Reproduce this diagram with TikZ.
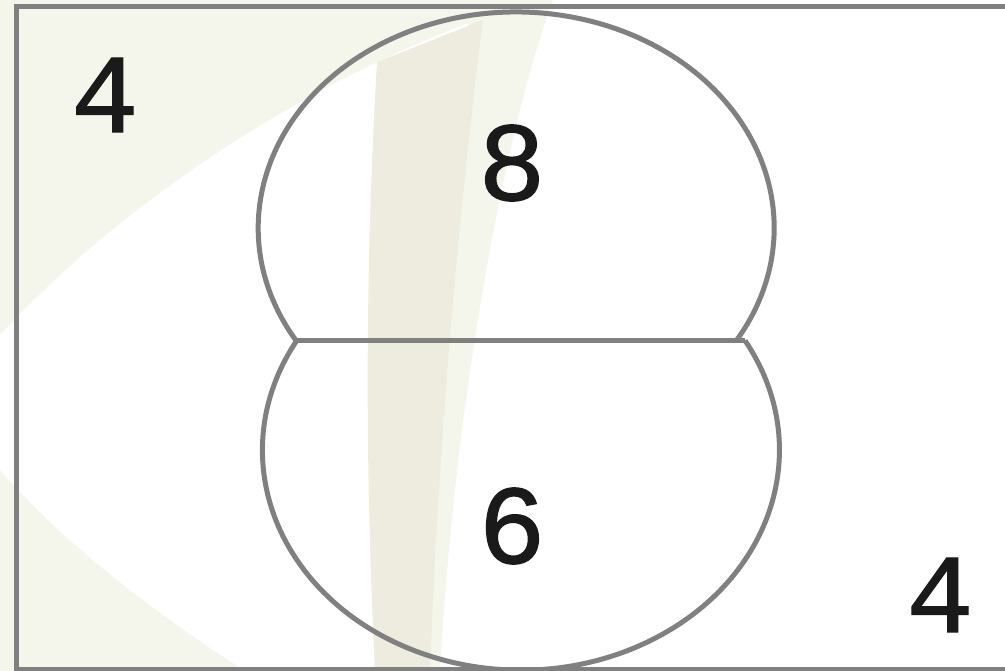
\documentclass[tikz,border=0pt]{standalone}
\usepackage{fontspec}
\newfontfamily\numfont[FakeBold=1.2]{Liberation Mono}
\definecolor{swoosh}{HTML}{F4F6EC}
\definecolor{band}{HTML}{EEECDF}
\definecolor{edge}{HTML}{808080}
\definecolor{ink}{HTML}{1A1A1A}
\begin{document}
\begin{tikzpicture}[x=0.02cm, y=-0.02cm,
  region/.style={draw=edge, line width=5*0.02cm},
  count/.style={inner sep=0pt, text=ink, font=\numfont\fontsize{64}{76}\selectfont}]
\useasboundingbox (0,0) rectangle (1005,671);
\clip (0,0) rectangle (1005,671);
% background swooshes
\fill[swoosh] (0,0) -- (0,335) .. controls (100,225) and (280,90) .. (490,15) -- (490,0) -- cycle;
\fill[swoosh] (470,0) -- (553,0) .. controls (505,130) and (455,400) .. (440,671) -- (420,671) -- cycle;
\fill[band] (377,62) -- (483,20) .. controls (465,160) and (440,400) .. (430,671) -- (375,671) .. controls (364,450) and (366,250) .. cycle;
\fill[swoosh] (0,470) .. controls (60,540) and (150,610) .. (245,671) -- (0,671) -- cycle;
% universe
\draw[region] (16.5,6.5) rectangle (1012,669.5);
% the two sets
\coordinate (cl) at (296,340.5);
\coordinate (cr) at (745,340.5);
\draw[region] (cl) arc[start angle=148.6, end angle=391.4, x radius=258, y radius=216];
\draw[region] (cr) arc[start angle=-29.9, end angle=209.9, x radius=258.5, y radius=220];
\draw[region] (cl) -- (cr);
% counts
\node[count] (outa) at (105,95) {4};
\node[count] (seta) at (512,163) {8};
\node[count] (setb) at (512,526) {6};
\node[count] (outb) at (940,595) {4};
\end{tikzpicture}
\end{document}
